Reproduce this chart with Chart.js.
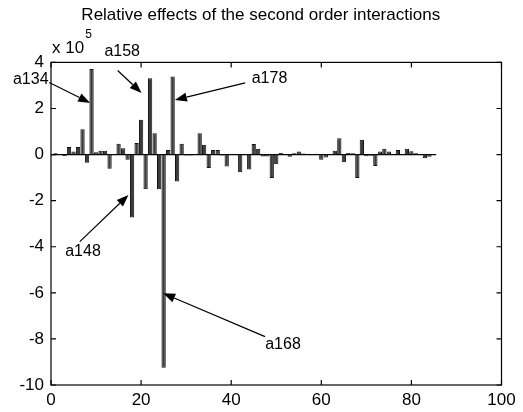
<!DOCTYPE html>
<html>
<head>
<meta charset="utf-8">
<script src="https://cdn.jsdelivr.net/npm/chart.js@4/dist/chart.umd.min.js"></script>
<style>
html,body{margin:0;padding:0;background:#fff;}
#wrap{width:523px;height:412px;}
</style>
</head>
<body>
<div id="wrap"><canvas id="chart" width="523" height="412"></canvas></div>
<script>
const chartTitle = 'Relative effects of the second order interactions';
// effect of each interaction, in units of 1e5 (index 1..85)
const effects = [
  0.06, 0.02, -0.06, 0.33, 0.13, 0.33, 1.10, -0.36, 3.71, 0.10,
  0.17, 0.17, -0.62, 0.02, 0.47, 0.27, -0.22, -2.73, 0.50, 1.51,
  -1.50, 3.31, 0.93, -1.50, -9.25, 0.20, 3.39, -1.17, 0.47, -0.04,
  -0.04, 0.02, 0.93, 0.43, -0.58, 0.20, 0.20, -0.04, -0.52, 0.02,
  0.02, -0.77, 0.02, -0.65, 0.46, 0.25, -0.08, -0.08, -1.02, -0.42,
  0.07, 0.02, -0.09, 0.06, 0.13, 0.05, 0.04, 0.02, 0.04, -0.22,
  -0.13, 0.02, 0.17, 0.71, -0.33, 0.07, 0.06, -1.02, 0.64, -0.07,
  -0.05, -0.50, 0.13, 0.25, 0.13, 0.02, 0.20, 0.03, 0.25, 0.14,
  0.06, 0.02, -0.16, -0.09, -0.02
];
const xTicks = [0, 20, 40, 60, 80, 100];
const yTicks = [-10, -8, -6, -4, -2, 0, 2, 4];
const yExponent = '5';

// callouts, in data coordinates
const calloutNames = ['a134', 'a158', 'a178', 'a148', 'a168'];
const calloutText  = [[-4.5, 3.24], [15.8, 4.45], [48.5, 3.28], [7.1, -4.23], [51.5, -8.26]];
const calloutTail  = [[-0.4, 3.13], [14.8, 3.65], [43.1, 3.11], [6.4, -3.78], [47.5, -7.90]];
const calloutTip   = [[8.7, 2.24], [20.1, 2.67], [27.5, 2.37], [17.2, -1.75], [24.9, -6.02]];

const FONT = 'Liberation Sans, Arial, sans-serif';

const frame = {
  id: 'frame',
  beforeDatasetsDraw(chart){
    const {ctx, scales:{x, y}} = chart;
    ctx.save();
    ctx.strokeStyle = '#000';
    ctx.lineWidth = 1.2;
    ctx.beginPath();
    ctx.moveTo(x.getPixelForValue(0), y.getPixelForValue(0));
    ctx.lineTo(x.getPixelForValue(effects.length + 0.5), y.getPixelForValue(0));
    ctx.stroke();
    ctx.restore();
  },
  afterDraw(chart){
    const {ctx, chartArea:a, scales:{x, y}} = chart;
    ctx.save();
    ctx.strokeStyle = '#000';
    ctx.lineWidth = 1.2;
    ctx.strokeRect(a.left, a.top, a.right - a.left, a.bottom - a.top);
    ctx.beginPath();
    xTicks.forEach(v => {
      const px = x.getPixelForValue(v);
      ctx.moveTo(px, a.bottom); ctx.lineTo(px, a.bottom - 5);
      ctx.moveTo(px, a.top); ctx.lineTo(px, a.top + 5);
    });
    yTicks.forEach(v => {
      const py = y.getPixelForValue(v);
      ctx.moveTo(a.left, py); ctx.lineTo(a.left + 5, py);
      ctx.moveTo(a.right, py); ctx.lineTo(a.right - 5, py);
    });
    ctx.stroke();

    // exponent label
    ctx.fillStyle = '#000';
    ctx.textBaseline = 'alphabetic';
    ctx.textAlign = 'left';
    ctx.font = '17px ' + FONT;
    ctx.fillText('x 10', a.left + 1, a.top - 9);
    const w = ctx.measureText('x 10').width;
    ctx.font = '12px ' + FONT;
    ctx.fillText(yExponent, a.left + 2 + w, a.top - 24);

    // callouts
    ctx.font = '16px ' + FONT;
    ctx.textAlign = 'center';
    ctx.textBaseline = 'middle';
    calloutNames.forEach((name, i) => {
      ctx.fillText(name, x.getPixelForValue(calloutText[i][0]), y.getPixelForValue(calloutText[i][1]));
      const x0 = x.getPixelForValue(calloutTail[i][0]), y0 = y.getPixelForValue(calloutTail[i][1]);
      const x1 = x.getPixelForValue(calloutTip[i][0]), y1 = y.getPixelForValue(calloutTip[i][1]);
      const ang = Math.atan2(y1 - y0, x1 - x0);
      const len = 12, half = 4.5;
      const bx = x1 - len * Math.cos(ang), by = y1 - len * Math.sin(ang);
      ctx.lineWidth = 1.2;
      ctx.beginPath();
      ctx.moveTo(x0, y0); ctx.lineTo(bx, by);
      ctx.stroke();
      ctx.beginPath();
      ctx.moveTo(x1, y1);
      ctx.lineTo(bx + half * Math.sin(ang), by - half * Math.cos(ang));
      ctx.lineTo(bx - half * Math.sin(ang), by + half * Math.cos(ang));
      ctx.closePath();
      ctx.fill();
    });
    ctx.restore();
  }
};

const points = effects.map((v, i) => ({x: i + 1, y: v}));

new Chart(document.getElementById('chart'), {
  type: 'bar',
  data: {datasets: [{
    data: points,
    backgroundColor: '#3a3a3a',
    borderColor: '#111',
    borderWidth: 1,
    barPercentage: 1,
    categoryPercentage: 0.95
  }]},
  options: {
    responsive: false,
    animation: false,
    layout: {padding: {left: 20, right: 21.5, top: 0, bottom: 0}},
    plugins: {
      legend: {display: false},
      tooltip: {enabled: false},
      title: {display: true, text: chartTitle, color: '#000',
        font: {family: FONT, size: 17, weight: 'normal'}, padding: {top: 5, bottom: 37}}
    },
    scales: {
      x: {
        type: 'linear', min: 0, max: 100, offset: false,
        afterBuildTicks(s){ s.ticks = xTicks.map(v => ({value: v})); },
        afterFit(s){ s.height = 27; },
        ticks: {color: '#000', font: {family: FONT, size: 17}, padding: 5, maxRotation: 0},
        grid: {display: false, drawTicks: false, offset: false},
        border: {display: false}
      },
      y: {
        min: -10, max: 4,
        afterBuildTicks(s){ s.ticks = yTicks.map(v => ({value: v})); },
        afterFit(s){ s.width = 31; },
        ticks: {color: '#000', font: {family: FONT, size: 17}, padding: 7},
        grid: {display: false, drawTicks: false},
        border: {display: false}
      }
    }
  },
  plugins: [frame]
});
</script>
</body>
</html>
